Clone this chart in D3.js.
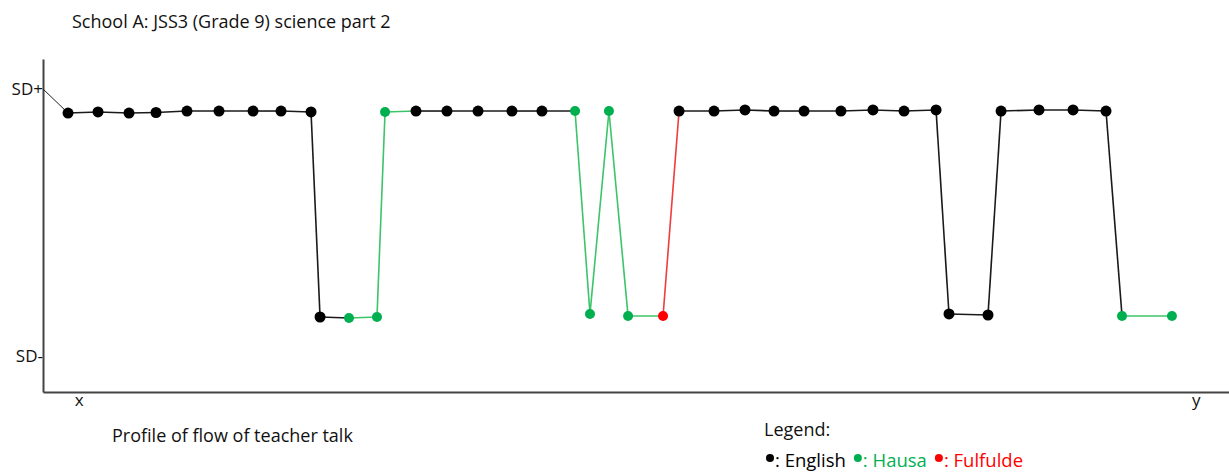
<!DOCTYPE html>
<html>
<head>
<meta charset="utf-8">
<script src="https://cdn.jsdelivr.net/npm/d3@7"></script>
<style>
  html, body { margin: 0; padding: 0; background: #fff; }
  svg text { font-family: "Open Sans", sans-serif; }
</style>
</head>
<body>
<svg id="chart" width="1229" height="472"></svg>
<script>
// ---- data ----
const title = "School A: JSS3 (Grade 9) science part 2";
const caption = "Profile of flow of teacher talk";
// time position of each utterance (0..100 along the x axis)
const times = [2.11, 4.64, 7.25, 9.53, 12.14, 14.84, 17.71, 20.07, 22.60, 23.36,
               25.80, 28.16, 28.84, 31.45, 34.06, 36.68, 39.54, 42.07, 44.86, 46.12,
               47.72, 49.33, 52.28, 53.63, 56.58, 59.19, 61.64, 64.17, 67.28, 69.98,
               72.60, 75.30, 76.39, 79.68, 80.78, 83.98, 86.85, 89.63, 90.98, 95.19];
// level relative to SD (+1 = SD+, -1 = SD-)
const levels = [0.820, 0.828, 0.820, 0.824, 0.835, 0.835, 0.835, 0.835, 0.828, -0.708,
                -0.715, -0.708, 0.828, 0.835, 0.835, 0.835, 0.835, 0.835, 0.835, -0.685,
                0.835, -0.700, -0.700, 0.835, 0.835, 0.843, 0.835, 0.835, 0.835, 0.843,
                0.835, 0.843, -0.685, -0.693, 0.835, 0.843, 0.843, 0.835, -0.700, -0.700];
const langs = ["E","E","E","E","E","E","E","E","E","E",
               "H","H","H","E","E","E","E","E","H","H",
               "H","H","F","E","E","E","E","E","E","E",
               "E","E","E","E","E","E","E","E","H","H"];
const langCodes = ["E", "H", "F"];
const langNames = ["English", "Hausa", "Fulfulde"];
const yTickValues = [1, -1];
const yTickLabels = ["SD+", "SD-"];
const xTickValues = [3.0, 97.2];
const xTickLabels = ["x", "y"];
const origin = {t: 0, v: 1};

// ---- styles ----
const pointColor = d3.scaleOrdinal().domain(langCodes).range(["#000000", "#00b050", "#ff0000"]);
const lineColor = d3.scaleOrdinal().domain(langCodes).range(["#1a1a1a", "#3cc46a", "#f03c3c"]);
const textColor = d3.scaleOrdinal().domain(langCodes).range(["#000000", "#00b050", "#ff0000"]);

const svg = d3.select("#chart");
const x = d3.scaleLinear().domain([0, 100]).range([43, 1229]);
const y = d3.scaleLinear().domain([-1.2697, 1.2247]).range([392, 59]);

const data = times.map((t, i) => ({t, v: levels[i], lang: langs[i]}));

// title
svg.append("text").attr("x", 72).attr("y", 28)
  .attr("font-size", 18).attr("fill", "#111").text(title);

// axes
const yAxis = d3.axisLeft(y).tickValues(yTickValues).tickSize(0).tickPadding(0)
  .tickFormat((d, i) => yTickLabels[i]);
const gy = svg.append("g").attr("transform", `translate(${x(0)},0)`).call(yAxis);
gy.select(".domain").attr("stroke", "#444").attr("stroke-width", 2);
gy.selectAll("text").attr("font-size", 17).attr("fill", "#111")
  .attr("font-family", "'Open Sans', sans-serif");

const xAxis = d3.axisBottom(x).tickValues(xTickValues).tickSize(0).tickPadding(2)
  .tickFormat((d, i) => xTickLabels[i]);
const gx = svg.append("g").attr("transform", `translate(0,${y.range()[0]})`).call(xAxis);
gx.select(".domain").attr("stroke", "#444").attr("stroke-width", 2);
gx.selectAll("text").attr("font-size", 17).attr("fill", "#111")
  .attr("font-family", "'Open Sans', sans-serif");

// connector from SD+ tick to first point
svg.append("line")
  .attr("x1", x(origin.t)).attr("y1", y(origin.v))
  .attr("x2", x(data[0].t)).attr("y2", y(data[0].v))
  .attr("stroke", "#222").attr("stroke-width", 1);

// segments, coloured by the starting utterance's language
const segs = d3.pairs(data);
svg.append("g").selectAll("line").data(segs).join("line")
  .attr("x1", d => x(d[0].t)).attr("y1", d => y(d[0].v))
  .attr("x2", d => x(d[1].t)).attr("y2", d => y(d[1].v))
  .attr("stroke", d => lineColor(d[0].lang)).attr("stroke-width", 1.6);

// points
svg.append("g").selectAll("circle").data(data).join("circle")
  .attr("cx", d => x(d.t)).attr("cy", d => y(d.v))
  .attr("r", d => d.lang === "E" ? 5.5 : 5)
  .attr("fill", d => pointColor(d.lang));

// caption
svg.append("text").attr("x", 112).attr("y", 442)
  .attr("font-size", 18).attr("fill", "#111").text(caption);

// legend
svg.append("text").attr("x", 764).attr("y", 436)
  .attr("font-size", 18).attr("fill", "#111").text("Legend:");
const lg = svg.append("g");
let cursor = 766;
langCodes.forEach((c, i) => {
  lg.append("circle").attr("cx", cursor + 4).attr("cy", 458).attr("r", 4)
    .attr("fill", pointColor(c));
  const t = lg.append("text").attr("x", cursor + 9).attr("y", 466.5)
    .attr("font-size", 18.5).attr("fill", textColor(c)).text(": " + langNames[i]);
  cursor += 9 + t.node().getComputedTextLength() + 8;
});
</script>
</body>
</html>
